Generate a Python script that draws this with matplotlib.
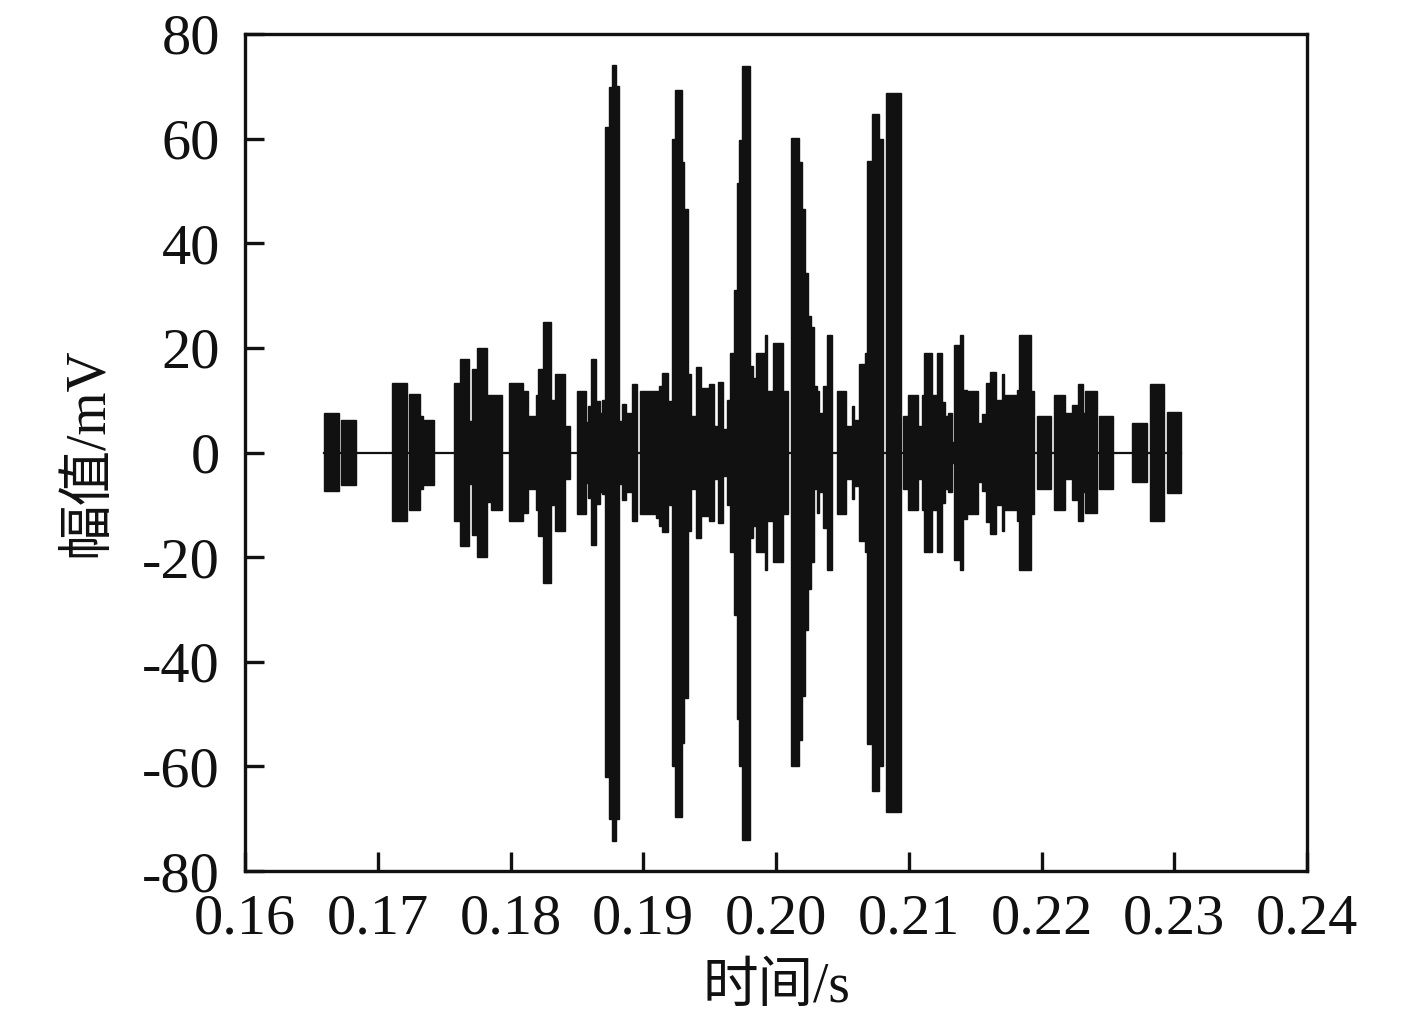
import matplotlib
matplotlib.use("Agg")
import matplotlib.pyplot as plt
import numpy as np
from matplotlib.ticker import FormatStrFormatter

# ---- data: burst segments of the sampled signal (time in ms, amplitude in mV) ----
seg_start_ms = [
    165.95, 167.23, 171.07, 172.35, 173.18, 173.41, 175.74, 176.20, 176.87, 177.10,
    177.48, 178.23, 178.53, 179.89, 180.94, 181.32, 181.92, 182.07, 182.45, 183.05,
    183.35, 184.11, 185.01, 185.69, 185.84, 186.06, 186.44, 186.74, 186.89, 187.12,
    187.42, 187.65, 187.95, 188.17, 188.40, 188.70, 189.15, 189.76, 190.96, 191.19,
    191.41, 191.86, 192.17, 192.39, 192.92, 193.07, 193.37, 193.60, 193.97, 194.35,
    194.95, 195.33, 195.63, 196.01, 196.31, 196.54, 196.84, 197.06, 197.21, 197.44,
    198.04, 198.27, 198.49, 199.17, 199.32, 199.77, 200.53, 201.13, 201.73, 201.96,
    202.18, 202.41, 202.64, 202.86, 203.09, 203.24, 203.54, 203.84, 204.59, 205.27,
    205.72, 205.88, 206.25, 206.70, 206.85, 207.23, 207.76, 208.29, 209.57, 209.94,
    210.70, 211.00, 211.15, 211.75, 212.13, 212.50, 212.73, 212.96, 213.26, 213.41,
    213.86, 214.09, 214.39, 215.22, 215.52, 215.82, 216.12, 216.57, 217.02, 217.17,
    218.15, 218.31, 219.21, 219.66, 220.94, 221.77, 222.30, 222.75, 223.13, 223.28,
    224.33, 226.82, 228.17, 229.45,
]
seg_end_ms = [
    167.08, 168.36, 172.20, 173.18, 173.41, 174.24, 176.20, 176.87, 177.10, 177.48,
    178.23, 178.53, 179.36, 180.94, 181.32, 181.92, 182.07, 182.45, 183.05, 183.35,
    184.11, 184.48, 185.69, 185.84, 186.06, 186.44, 186.74, 186.89, 187.12, 187.42,
    187.65, 187.95, 188.17, 188.40, 188.70, 189.15, 189.53, 190.96, 191.19, 191.41,
    191.86, 192.17, 192.39, 192.92, 193.07, 193.37, 193.60, 193.97, 194.35, 194.95,
    195.33, 195.63, 196.01, 196.31, 196.54, 196.84, 197.06, 197.21, 197.44, 198.04,
    198.27, 198.49, 199.17, 199.32, 199.77, 200.53, 200.90, 201.73, 201.96, 202.18,
    202.41, 202.64, 202.86, 203.09, 203.24, 203.54, 203.84, 204.22, 205.27, 205.72,
    205.88, 206.25, 206.70, 206.85, 207.23, 207.76, 208.06, 209.42, 209.94, 210.70,
    211.00, 211.15, 211.75, 212.13, 212.50, 212.73, 212.96, 213.26, 213.41, 213.86,
    214.09, 214.39, 215.22, 215.52, 215.82, 216.12, 216.57, 217.02, 217.17, 218.15,
    218.31, 219.21, 219.44, 220.72, 221.77, 222.30, 222.75, 223.13, 223.28, 224.18,
    225.39, 227.95, 229.23, 230.51,
]
amp_upper = [
    7.5, 6.3, 13.2, 11.1, 7.0, 6.3, 13.2, 17.8, 6.0, 16.0,
    20.0, 11.0, 11.0, 13.2, 11.7, 7.0, 11.0, 16.0, 25.0, 10.0,
    15.0, 5.0, 11.7, 5.8, 8.9, 17.8, 9.8, 7.6, 10.0, 62.2,
    69.8, 74.0, 70.0, 6.0, 9.2, 7.6, 13.0, 11.7, 11.7, 12.7,
    15.2, 9.8, 60.0, 69.3, 55.5, 46.5, 15.0, 7.0, 16.4, 12.4,
    13.0, 5.0, 13.5, 4.4, 10.0, 19.0, 31.0, 51.6, 59.7, 73.9,
    16.5, 14.3, 19.0, 22.4, 11.7, 21.0, 11.7, 60.2, 55.5, 46.5,
    34.3, 26.0, 24.0, 12.7, 11.7, 7.6, 12.7, 22.4, 11.7, 5.0,
    8.9, 6.3, 17.0, 19.0, 55.7, 64.8, 60.0, 68.8, 7.0, 10.9,
    5.0, 11.0, 19.0, 11.0, 19.0, 9.6, 7.0, 7.5, 2.0, 20.6,
    22.4, 12.0, 11.7, 5.7, 7.4, 13.2, 15.4, 10.0, 15.0, 11.0,
    12.0, 22.4, 11.7, 7.0, 11.0, 7.5, 9.0, 13.0, 7.5, 11.7,
    7.0, 5.7, 13.0, 7.7,
]
amp_lower = [
    7.4, 6.3, 13.0, 11.0, 7.0, 6.3, 13.0, 17.8, 6.0, 15.7,
    20.0, 9.5, 11.0, 13.0, 11.5, 7.0, 11.0, 16.0, 25.0, 10.0,
    15.0, 5.0, 11.7, 5.8, 8.7, 17.7, 9.8, 7.6, 8.0, 62.0,
    70.0, 74.3, 70.0, 6.0, 9.0, 7.6, 13.0, 11.7, 12.5, 14.0,
    15.2, 10.0, 60.0, 69.7, 55.5, 47.0, 15.0, 7.0, 16.3, 12.2,
    13.0, 5.0, 13.5, 4.4, 10.0, 19.0, 31.0, 51.0, 60.0, 74.0,
    16.3, 14.0, 19.0, 22.4, 13.0, 21.0, 11.7, 60.0, 55.0, 46.5,
    34.0, 26.0, 21.0, 7.0, 11.5, 7.6, 14.4, 22.4, 11.7, 5.0,
    8.9, 6.4, 17.0, 19.0, 55.7, 64.8, 60.0, 68.8, 7.0, 10.9,
    5.0, 11.0, 19.0, 11.0, 19.0, 9.6, 7.0, 7.5, 2.0, 20.5,
    22.4, 12.8, 11.7, 5.7, 7.4, 13.3, 15.5, 10.0, 15.0, 11.0,
    13.0, 22.4, 11.7, 7.0, 11.0, 5.0, 9.0, 13.0, 7.5, 11.5,
    7.0, 5.7, 13.0, 7.7,
]

x_ticks = [0.16, 0.17, 0.18, 0.19, 0.20, 0.21, 0.22, 0.23, 0.24]
y_ticks = [-80, -60, -40, -20, 0, 20, 40, 60, 80]
x_label = "时间/s"
y_label = "幅值/mV"

# ---- style ----
plt.rcParams['font.family'] = ['Liberation Serif', 'Noto Sans CJK SC']
plt.rcParams['axes.unicode_minus'] = False

fig = plt.figure(figsize=(14.17, 10.28), dpi=100)
ax = fig.add_axes([245 / 1417, 1 - 871 / 1028, (1307 - 245) / 1417, (871 - 34) / 1028])

t0 = np.array(seg_start_ms) / 1000.0
t1 = np.array(seg_end_ms) / 1000.0
up = np.array(amp_upper)
lo = np.array(amp_lower)

ink = '#111111'
# baseline (zero level between bursts)
ax.plot([t0.min(), t1.max()], [0, 0], color=ink, lw=1.6, zorder=2)
# bursts
ax.bar(t0, up + lo, width=t1 - t0, bottom=-lo, align='edge',
       color=ink, edgecolor=ink, linewidth=1.0, zorder=3)

ax.set_xlim(0.16, 0.24)
ax.set_ylim(-80, 80)
ax.set_xticks(x_ticks)
ax.set_yticks(y_ticks)
ax.xaxis.set_major_formatter(FormatStrFormatter('%.2f'))

for sp in ax.spines.values():
    sp.set_linewidth(2.4)
    sp.set_color(ink)

ax.tick_params(axis='both', direction='in', length=14, width=2.4,
               labelsize=42, colors=ink, top=False, right=False)
ax.tick_params(axis='x', pad=16)
ax.tick_params(axis='y', pad=18)

ax.set_xlabel(x_label, fontsize=40, labelpad=12, color=ink)
ax.set_ylabel(y_label, fontsize=40, labelpad=20, color=ink)

fig.savefig("out.png", dpi=100, facecolor='white')
